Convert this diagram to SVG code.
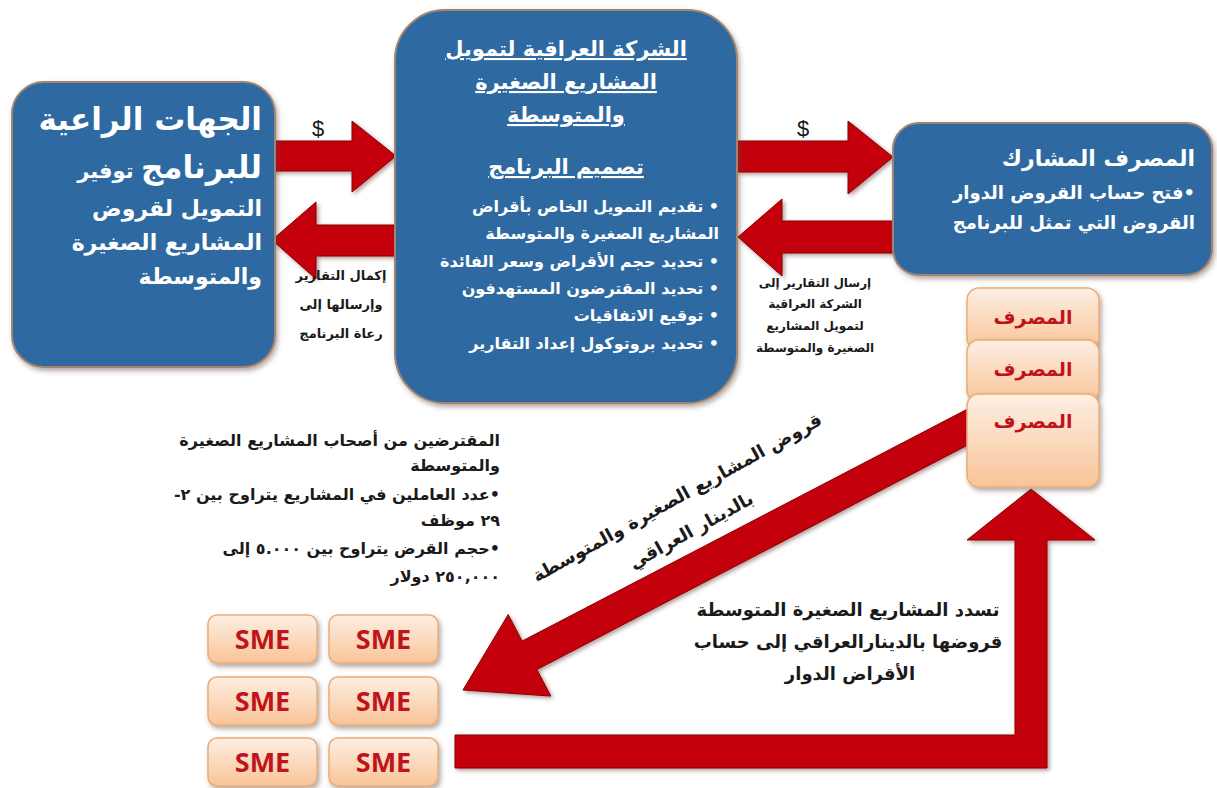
<svg xmlns="http://www.w3.org/2000/svg" width="1217" height="788" viewBox="0 0 1217 788">
<defs>
  <linearGradient id="peach" x1="0" y1="0" x2="0" y2="1">
    <stop offset="0" stop-color="#fdefe4"/>
    <stop offset="1" stop-color="#f9c497"/>
  </linearGradient>
  <filter id="sh" x="-10%" y="-10%" width="130%" height="130%">
    <feDropShadow dx="2" dy="3" stdDeviation="2.5" flood-color="#5a4030" flood-opacity="0.45"/>
  </filter>
  <filter id="ash" x="-10%" y="-10%" width="130%" height="130%">
    <feDropShadow dx="2" dy="2" stdDeviation="2" flood-color="#400000" flood-opacity="0.4"/>
  </filter>
</defs>
<style>
  .blue{fill:#2f69a1;stroke:#a08470;stroke-width:2}
  .arrow{fill:#c4000b;stroke:#8a0000;stroke-width:1}
  .w{fill:#ffffff;font-family:"DejaVu Sans",sans-serif;font-weight:bold}
  .k{fill:#1a1a1a;font-family:"DejaVu Sans",sans-serif;font-weight:bold}
  .peach{fill:url(#peach);stroke:#e9ad79;stroke-width:1.5}
  .bank{fill:#c0141c;font-family:"DejaVu Sans",sans-serif;font-weight:bold;font-size:19px}
  .sme{fill:#c0141c;font-family:"Open Sans","DejaVu Sans",sans-serif;font-weight:bold;font-size:27px}
  .rtl{direction:rtl}
</style>
<rect width="1217" height="788" fill="#ffffff"/>

<g id="connectors" filter="url(#ash)">
  <polygon class="arrow" points="270,141 352,141 352,121 396,156 352,192 352,171 270,171"/>
  <polygon class="arrow" points="396,225 316,225 316,202 272,240 316,279 316,256 396,256"/>
  <polygon class="arrow" points="737,141 848,141 848,121 893,157 848,194 848,172 737,172"/>
  <polygon class="arrow" points="893,221 782,221 782,199 738,237 782,276 782,253 893,253"/>
  <polygon class="arrow" points="463,690 508.2,614.5 522.1,641.1 977.6,403.8 992.4,432.2 536.9,669.5 550.8,696.1"/>
  <polygon class="arrow" points="455,735 1015,735 1015,540 967,540 1031,489 1095,540 1047,540 1047,768 455,768"/>
</g>

<g id="labels">
  <text x="318" y="136" font-family="Liberation Sans, sans-serif" font-size="22" fill="#1a1a1a" text-anchor="middle">$</text>
  <text x="803" y="136" font-family="Liberation Sans, sans-serif" font-size="22" fill="#1a1a1a" text-anchor="middle">$</text>
  <g class="k" font-size="13" text-anchor="middle">
    <text x="341" y="280">إكمال التقارير</text>
    <text x="341" y="309">وإرسالها إلى</text>
    <text x="341" y="338">رعاة البرنامج</text>
  </g>
  <g class="k" font-size="12" text-anchor="middle">
    <text x="815" y="287">إرسال التقارير إلى</text>
    <text x="815" y="308">الشركة العراقية</text>
    <text x="815" y="330">لتمويل المشاريع</text>
    <text x="815" y="352">الصغيرة والمتوسطة</text>
  </g>
  <g class="k" font-size="16" text-anchor="start" direction="rtl">
    <text class="rtl" x="500" y="446">المقترضين من أصحاب المشاريع الصغيرة</text>
    <text class="rtl" x="500" y="471">والمتوسطة</text>
    <text class="rtl" x="500" y="500">•عدد العاملين في المشاريع يتراوح بين ٢-</text>
    <text class="rtl" x="500" y="526">٢٩ موظف</text>
    <text class="rtl" x="500" y="554">•حجم القرض يتراوح بين ٥.٠٠٠ إلى</text>
    <text class="rtl" x="500" y="582">٢٥٠,٠٠٠ دولار</text>
  </g>
  <g class="k" font-size="18" text-anchor="middle">
    <text transform="translate(680,503) rotate(-29)">قروض المشاريع الصغيرة والمتوسطة</text>
    <text transform="translate(694,536) rotate(-29)">بالدينار العراقي</text>
  </g>
  <g class="k" font-size="18" text-anchor="middle">
    <text x="848" y="616">تسدد المشاريع الصغيرة المتوسطة</text>
    <text x="848" y="648">قروضها بالدينارالعراقي إلى حساب</text>
    <text x="850" y="680">الأقراض الدوار</text>
  </g>
</g>

<g id="sponsors">
  <rect class="blue" x="12" y="82" width="263" height="285" rx="32" filter="url(#sh)"/>
  <g class="w" text-anchor="start" direction="rtl">
    <text class="rtl" x="262" y="130" font-size="31">الجهات الراعية</text>
    <text class="rtl" x="262" y="178"><tspan font-size="31">للبرنامج</tspan><tspan font-size="21"> توفير</tspan></text>
    <text class="rtl" x="262" y="216" font-size="22">التمويل لقروض</text>
    <text class="rtl" x="262" y="250" font-size="22">المشاريع الصغيرة</text>
    <text class="rtl" x="262" y="284" font-size="22">والمتوسطة</text>
  </g>
</g>

<g id="company">
  <rect class="blue" x="395" y="10" width="342" height="393" rx="50" filter="url(#sh)"/>
  <g class="w" font-size="21" text-anchor="middle" text-decoration="underline">
    <text x="566" y="56">الشركة العراقية لتمويل</text>
    <text x="566" y="89">المشاريع الصغيرة</text>
    <text x="566" y="122">والمتوسطة</text>
    <text x="566" y="174">تصميم البرنامج</text>
  </g>
  <g class="w" font-size="16" text-anchor="start" direction="rtl">
    <text class="rtl" x="719" y="212">• تقديم التمويل الخاص بأقراض</text>
    <text class="rtl" x="719" y="239">المشاريع الصغيرة والمتوسطة</text>
    <text class="rtl" x="719" y="267">• تحديد حجم الأقراض وسعر الفائدة</text>
    <text class="rtl" x="719" y="294">• تحديد المقترضون المستهدفون</text>
    <text class="rtl" x="719" y="321">• توقيع الاتفاقيات</text>
    <text class="rtl" x="719" y="349">• تحديد بروتوكول إعداد التقارير</text>
  </g>
</g>

<g id="partner-bank">
  <rect class="blue" x="893" y="123" width="319" height="152" rx="26" filter="url(#sh)"/>
  <g class="w" text-anchor="start" direction="rtl">
    <text class="rtl" x="1195" y="166" font-size="22">المصرف المشارك</text>
    <text class="rtl" x="1195" y="199" font-size="18">•فتح حساب القروض الدوار</text>
    <text class="rtl" x="1195" y="229" font-size="18">القروض التي تمثل للبرنامج</text>
  </g>
</g>

<g id="bank-1">
  <rect class="peach" x="967" y="288" width="132" height="62" rx="12" filter="url(#sh)"/>
  <text class="bank" x="1033" y="324" text-anchor="middle">المصرف</text>
</g>
<g id="bank-2">
  <rect class="peach" x="967" y="340" width="132" height="62" rx="12" filter="url(#sh)"/>
  <text class="bank" x="1033" y="376" text-anchor="middle">المصرف</text>
</g>
<g id="bank-3">
  <rect class="peach" x="967" y="394" width="132" height="93" rx="12" filter="url(#sh)"/>
  <text class="bank" x="1033" y="428" text-anchor="middle">المصرف</text>
</g>

<g id="sme-1"><rect class="peach" x="208" y="615" width="109" height="48" rx="9" filter="url(#sh)"/><text class="sme" x="262.5" y="649" text-anchor="middle">SME</text></g>
<g id="sme-2"><rect class="peach" x="329" y="615" width="109" height="48" rx="9" filter="url(#sh)"/><text class="sme" x="383.5" y="649" text-anchor="middle">SME</text></g>
<g id="sme-3"><rect class="peach" x="208" y="677" width="109" height="48" rx="9" filter="url(#sh)"/><text class="sme" x="262.5" y="711" text-anchor="middle">SME</text></g>
<g id="sme-4"><rect class="peach" x="329" y="677" width="109" height="48" rx="9" filter="url(#sh)"/><text class="sme" x="383.5" y="711" text-anchor="middle">SME</text></g>
<g id="sme-5"><rect class="peach" x="208" y="738" width="109" height="48" rx="9" filter="url(#sh)"/><text class="sme" x="262.5" y="772" text-anchor="middle">SME</text></g>
<g id="sme-6"><rect class="peach" x="329" y="738" width="109" height="48" rx="9" filter="url(#sh)"/><text class="sme" x="383.5" y="772" text-anchor="middle">SME</text></g>
</svg>
